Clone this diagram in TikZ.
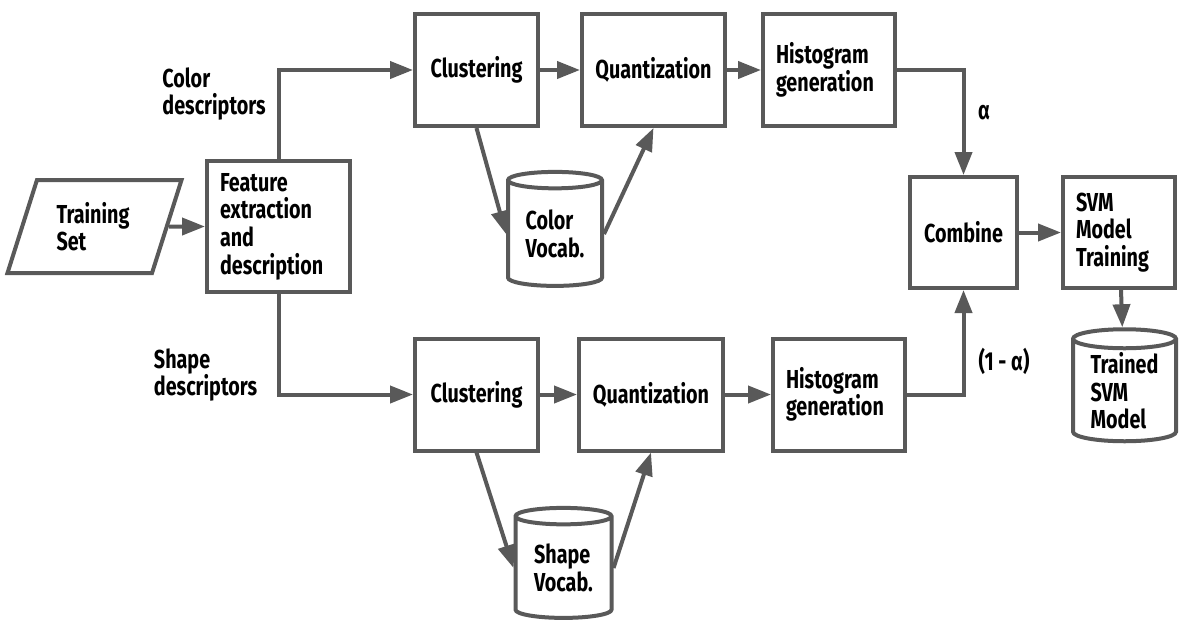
\documentclass[tikz,border=0pt]{standalone}
\usepackage{fontspec}
\setmainfont{Fira Sans}[FakeStretch=0.76]
\usetikzlibrary{arrows.meta}
\usetikzlibrary{shapes.geometric}
\definecolor{flowgray}{HTML}{595959}
\tikzset{procbox/.style={draw=flowgray, line width=2pt, align=left, inner xsep=6.5pt, inner ysep=0pt,
		minimum height=56pt, font=\bfseries\fontsize{13}{13.8}\selectfont},
	store/.style={draw=flowgray, line width=2pt, cylinder, shape border rotate=90, aspect=0.28,
		align=left, inner sep=0pt, font=\bfseries\fontsize{13}{13.8}\selectfont},
	lbl/.style={align=left, inner sep=0pt, font=\bfseries\fontsize{13}{13.8}\selectfont},
	flow/.style={draw=flowgray, line width=2pt}}

\begin{document}
\begin{tikzpicture}[x=0.5pt, y=-0.5pt]
	\useasboundingbox (0,0) rectangle (1181,627);
	\begin{scope}[every node/.style={procbox}]
		\node[trapezium, trapezium left angle=62, trapezium right angle=118, trapezium stretches=true,
			minimum width=87.5pt, minimum height=46.5pt, text width=38pt] (train) at (94.5,226.5) {Training\\Set};
		\node[minimum height=65.5pt, text width=58.5pt] (feat) at (278.5,226.5) {Feature\\extraction\\and\\description};
		\node[text width=48.5pt, align=center] (clus1) at (476.5,70) {Clustering};
		\node[text width=58.5pt, align=center] (quan1) at (653.5,70) {Quantization};
		\node[text width=53pt] (hist1) at (829,70) {Histogram\\generation};
		\node[text width=48.5pt, align=center] (clus2) at (476.5,394.5) {Clustering};
		\node[text width=59pt, align=center] (quan2) at (651,394.5) {Quantization};
		\node[text width=53pt] (hist2) at (839,394.5) {Histogram\\generation};
		\node[text width=40.5pt, align=center, minimum height=55.5pt] (comb) at (963.5,232.5) {Combine};
		\node[text width=43pt, minimum height=55.5pt] (svm) at (1119,232.5) {SVM\\Model\\Training};
	\end{scope}
	\begin{scope}[every node/.style={store}]
		\node[minimum width=47pt, minimum height=57pt] (cvoc) at (555,234) {Color\\Vocab.};
		\node[minimum width=48pt, minimum height=55pt] (svoc) at (563.5,568) {Shape\\Vocab.};
		\node[minimum width=51.5pt, minimum height=56pt] (tsvm) at (1124.5,391) {Trained\\SVM\\Model};
	\end{scope}
	\node[lbl] (clbl) at (214,94) {Color\\descriptors};
	\node[lbl] (slbl) at (205.5,375) {Shape\\descriptors};
	\node[lbl] (wa) at (984,113) {α};
	\node[lbl] (wb) at (1004,361) {(1 - α)};
	\begin{scope}[>={Triangle[length=11.5pt,width=8.5pt]}, every edge/.style={flow}]
		\path [->] (train) edge (feat);
		\path [->] (clus1) edge (quan1);
		\path [->] (quan1) edge (hist1);
		\path [->] (clus2) edge (quan2);
		\path [->] (quan2) edge (hist2);
		\path [->] (comb) edge (svm);
		\path [->] (svm) edge (tsvm);
		\path [->] (clus1.south) edge (cvoc.west);
		\path [->] (cvoc.east) edge (quan1.south);
		\path [->] (clus2.south) edge (svoc.west);
		\path [->] (svoc.east) edge (quan2.south);
		\draw [flow, ->] (feat.north) |- (clus1.west);
		\draw [flow, ->] (feat.south) |- (clus2.west);
		\draw [flow, ->] (hist1.east) -| (comb.north);
		\draw [flow, ->] (hist2.east) -| (comb.south);
	\end{scope}
\end{tikzpicture}
\end{document}
